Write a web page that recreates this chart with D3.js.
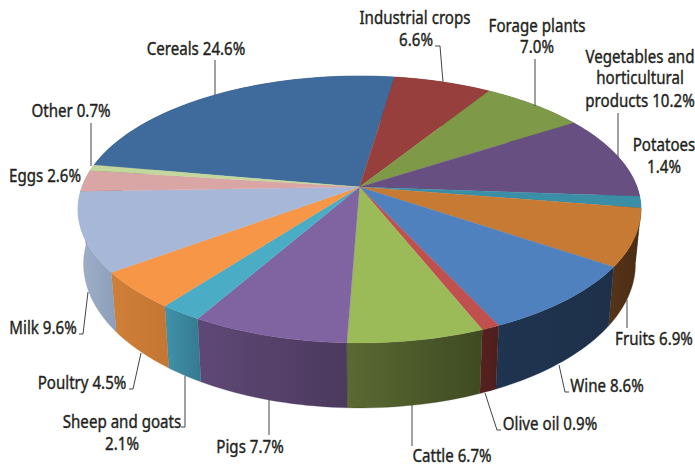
<!DOCTYPE html>
<html>
<head>
<meta charset="utf-8">
<script src="https://d3js.org/d3.v7.min.js"></script>
<style>
  html, body { margin: 0; background: #fff; }
  text { font-family: "Noto Sans", sans-serif; font-size: 18px; fill: #231f20; stroke: #231f20; stroke-width: 0.4px; }
</style>
</head>
<body>
<svg id="chart" width="695" height="468"></svg>
<script>
// share of output, clockwise from cereals
const categories = ["Cereals", "Industrial crops", "Forage plants", "Vegetables and horticultural products",
  "Potatoes", "Fruits", "Wine", "Olive oil", "Cattle", "Pigs", "Sheep and goats", "Poultry", "Milk", "Eggs", "Other"]
const values = [24.6, 6.6, 7.0, 10.2, 1.4, 6.9, 8.6, 0.9, 6.7, 7.7, 2.1, 4.5, 9.6, 2.6, 0.7]

const topColors = ["#3e6a9c", "#973f3c", "#7e9a48", "#684f82", "#3a8ea6", "#c77a34", "#4e81bd", "#c0504d",
  "#9bbb59", "#8064a2", "#4bacc6", "#f79646", "#a7b7d7", "#d9a6a5", "#c3d69b"]
const wallLeft = ["#2c4a6e", "#6a2c2a", "#586c32", "#49385b", "#296475", "#55351a", "#1f3450", "#57211f",
  "#5a6a33", "#5f4876", "#3f93ab", "#cf7f38", "#a0b0ca", "#a08080", "#90a070"]
const wallRight = ["#2c4a6e", "#6a2c2a", "#586c32", "#49385b", "#296475", "#4a2c12", "#1e3049", "#4c1f1e",
  "#3f4a22", "#4b395e", "#36798f", "#c47632", "#8c9eb9", "#a08080", "#90a070"]

// label text, one entry per line
const labelLines = [["Cereals 24.6%"], ["Industrial crops", "6.6%"], ["Forage plants", "7.0%"],
  ["Vegetables and", "horticultural", "products 10.2%"], ["Potatoes", "1.4%"], ["Fruits 6.9%"], ["Wine 8.6%"],
  ["Olive oil 0.9%"], ["Cattle 6.7%"], ["Pigs 7.7%"], ["Sheep and goats", "2.1%"], ["Poultry 4.5%"],
  ["Milk 9.6%"], ["Eggs 2.6%"], ["Other 0.7%"]]

// placement of each label line: [centre x, baseline y]
const labelPlaces = [[[196, 55]], [[415, 24], [416, 46]], [[537, 32], [537, 53]],
  [[640, 63], [640, 84], [640, 107]], [[664, 151], [664, 173]], [[654, 345]], [[607, 392]],
  [[550, 430]], [[452, 462]], [[250, 453]], [[122, 428], [122, 450]], [[82, 389]],
  [[43, 334]], [[45, 182]], [[71, 117]]]

// leader lines
const leaders = [[[215, 95], [215, 60]], [[435, 46], [440, 46], [443, 82]], [[535, 59], [535, 106]],
  [[618, 113], [618, 157]], [[627, 300], [627, 328]], [[559, 365], [565, 392], [569, 392]],
  [[485, 393], [497, 430], [501, 430]], [[412, 405], [412, 446]], [[269, 400], [269, 435]],
  [[185, 376], [185, 427], [181, 427]], [[141, 353], [133, 389], [129, 389]],
  [[88, 292], [83, 334], [79, 334]], [[91, 166], [91, 123]]]

const svg = d3.select("#chart")
const defs = svg.append("defs")

// perspective view of the disc, Y runs towards the viewer
const cx = 359.5
const tilt = -0.1685
const topPlane = { k: 277.5, b: 187, a: 98.2 }
const lowPlane = { k: 272, b: 239.7, a: 99.5 }
const squeeze = 0.84

function project(plane, angle) {
  let X = Math.sin(angle), Y = -Math.cos(angle)
  let w = 1 + tilt * Y
  return [cx + plane.k * X / w, (plane.b + plane.a * Y) / w]
}

function rim(plane, d) {
  let n = Math.max(2, Math.ceil((d.endAngle - d.startAngle) * 40))
  return d3.range(n + 1).map(i => project(plane, d.startAngle + (d.endAngle - d.startAngle) * i / n))
}

const pie = d3.pie().sort(null).startAngle(-80 * Math.PI / 180).endAngle(280 * Math.PI / 180)
const slices = pie(values)
const line = d3.line()

slices.forEach((d, i) => {
  let g = defs.append("linearGradient").attr("id", "wall" + i)
  g.append("stop").attr("offset", 0).attr("stop-color", wallLeft[i])
  g.append("stop").attr("offset", 1).attr("stop-color", wallRight[i])
})

svg.append("g").selectAll("path").data(slices).join("path")
  .attr("d", d => line(rim(topPlane, d).concat(rim(lowPlane, d).reverse())) + "Z")
  .attr("fill", (d, i) => `url(#wall${i})`)
  .attr("stroke", (d, i) => wallRight[i]).attr("stroke-width", 0.3)

svg.append("g").selectAll("path").data(slices).join("path")
  .attr("d", d => line([[cx, topPlane.b]].concat(rim(topPlane, d))) + "Z")
  .attr("fill", (d, i) => topColors[i])
  .attr("stroke", (d, i) => topColors[i]).attr("stroke-width", 0.3)

svg.append("g").selectAll("path").data(leaders).join("path")
  .attr("d", d => line(d))
  .attr("fill", "none").attr("stroke", "#444").attr("stroke-width", 1)

const labels = svg.append("g").selectAll("g").data(categories).join("g").attr("class", "label")
labels.selectAll("text").data((d, i) => labelLines[i].map((t, j) => ({ t, p: labelPlaces[i][j] }))).join("text")
  .attr("transform", d => `translate(${d.p[0]},${d.p[1]}) scale(${squeeze},1)`)
  .attr("text-anchor", "middle")
  .text(d => d.t)
</script>
</body>
</html>
